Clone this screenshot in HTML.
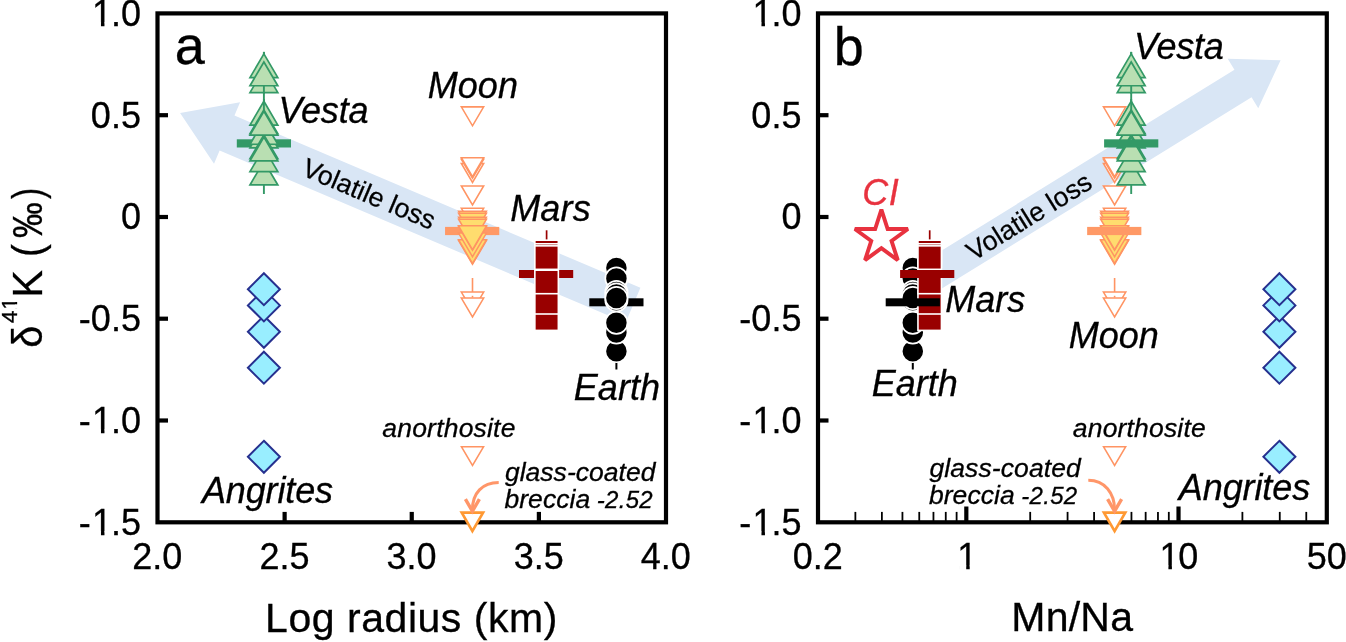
<!DOCTYPE html>
<html lang="en"><head><meta charset="utf-8"><title>Figure</title>
<style>html,body{margin:0;padding:0;background:#fff;overflow:hidden}svg{display:block}</style></head>
<body>
<svg width="1346" height="642" viewBox="0 0 1346 642" font-family="'Liberation Sans', sans-serif">
<rect width="1346" height="642" fill="#fff"/>
<polygon points="180.10,113.10 240.08,102.33 234.47,115.54 640.41,287.85 625.56,322.83 219.62,150.52 214.01,163.73" fill="#d9e6f5"/>
<polygon points="1280.60,60.30 1258.26,108.24 1251.53,97.35 938.60,290.62 921.53,262.97 1234.46,69.70 1227.73,58.81" fill="#d9e6f5"/>
<text transform="translate(300.4,174.8) rotate(23)" font-size="26.8" stroke="#000" stroke-width="0.25">Volatile loss</text>
<text transform="translate(973.6,261.4) rotate(-31.7)" font-size="26.8" stroke="#000" stroke-width="0.25">Volatile loss</text>
<polygon points="263.90,440.80 279.90,456.80 263.90,472.80 247.90,456.80" fill="#99eeff" stroke="#26308f" stroke-width="2.0"/>
<polygon points="263.90,351.70 279.90,367.70 263.90,383.70 247.90,367.70" fill="#99eeff" stroke="#26308f" stroke-width="2.0"/>
<polygon points="263.90,315.80 279.90,331.80 263.90,347.80 247.90,331.80" fill="#99eeff" stroke="#26308f" stroke-width="2.0"/>
<polygon points="263.90,289.40 279.90,305.40 263.90,321.40 247.90,305.40" fill="#99eeff" stroke="#26308f" stroke-width="2.0"/>
<polygon points="263.90,273.20 279.90,289.20 263.90,305.20 247.90,289.20" fill="#99eeff" stroke="#26308f" stroke-width="2.0"/>
<rect x="236.80" y="139.30" width="54.2" height="8.2" fill="#339966"/>
<line x1="263.90" y1="51.90" x2="263.90" y2="194.00" stroke="#339966" stroke-width="1.9"/>
<polygon points="249.97,184.95 277.83,184.95 263.90,161.20" fill="#b9dfb2" stroke="#339966" stroke-width="1.7"/>
<polygon points="249.97,171.65 277.83,171.65 263.90,147.90" fill="#b9dfb2" stroke="#339966" stroke-width="1.7"/>
<polygon points="249.97,147.85 277.83,147.85 263.90,124.10" fill="#b9dfb2" stroke="#339966" stroke-width="1.7"/>
<polygon points="249.97,144.25 277.83,144.25 263.90,120.50" fill="#b9dfb2" stroke="#339966" stroke-width="1.7"/>
<polygon points="249.97,158.65 277.83,158.65 263.90,134.90" fill="#b9dfb2" stroke="#339966" stroke-width="1.7"/>
<polygon points="249.97,125.05 277.83,125.05 263.90,101.30" fill="#b9dfb2" stroke="#339966" stroke-width="1.7"/>
<line x1="263.90" y1="99.00" x2="263.90" y2="112.00" stroke="#339966" stroke-width="1.9"/>
<polygon points="249.97,133.65 277.83,133.65 263.90,109.90" fill="#b9dfb2" stroke="#339966" stroke-width="1.7"/>
<polygon points="249.97,135.15 277.83,135.15 263.90,111.40" fill="#b9dfb2" stroke="#339966" stroke-width="1.7"/>
<polygon points="249.97,160.85 277.83,160.85 263.90,137.10" fill="#b9dfb2" stroke="#339966" stroke-width="1.7"/>
<polygon points="249.97,92.65 277.83,92.65 263.90,68.90" fill="#b9dfb2" stroke="#339966" stroke-width="1.7"/>
<line x1="263.90" y1="86.00" x2="263.90" y2="94.00" stroke="#339966" stroke-width="1.9"/>
<polygon points="249.97,77.65 277.83,77.65 263.90,53.90" fill="#b9dfb2" stroke="#339966" stroke-width="1.7"/>
<polygon points="249.97,85.75 277.83,85.75 263.90,62.00" fill="#b9dfb2" stroke="#339966" stroke-width="1.7"/>
<line x1="263.90" y1="51.90" x2="263.90" y2="55.00" stroke="#339966" stroke-width="1.9"/>
<rect x="445.05" y="226.90" width="54.2" height="8.2" fill="#ff9966"/>
<line x1="472.50" y1="278.00" x2="472.50" y2="292.00" stroke="#ff9463" stroke-width="1.6"/>
<polygon points="461.34,292.07 483.66,292.07 472.50,311.00" fill="#fff" stroke="#ff9463" stroke-width="1.55"/>
<line x1="472.50" y1="295.80" x2="472.50" y2="297.50" stroke="#ff9463" stroke-width="1.6"/>
<polygon points="461.34,298.07 483.66,298.07 472.50,317.00" fill="#fff" stroke="#ff9463" stroke-width="1.55"/>
<polygon points="458.55,240.55 486.45,240.55 472.50,264.23" fill="#ffdc6e" stroke="#ff9463" stroke-width="1.5"/>
<polygon points="458.55,239.75 486.45,239.75 472.50,263.43" fill="#ffdc6e" stroke="#ff9463" stroke-width="1.5"/>
<polygon points="458.55,233.05 486.45,233.05 472.50,256.73" fill="#ffdc6e" stroke="#ff9463" stroke-width="1.5"/>
<polygon points="458.55,226.55 486.45,226.55 472.50,250.23" fill="#ffdc6e" stroke="#ff9463" stroke-width="1.5"/>
<polygon points="461.34,208.28 483.66,208.28 472.50,227.20" fill="#fff" stroke="#ff9463" stroke-width="1.55"/>
<polygon points="458.55,211.15 486.45,211.15 472.50,234.83" fill="#ffdc6e" stroke="#ff9463" stroke-width="1.5"/>
<polygon points="458.55,213.25 486.45,213.25 472.50,236.93" fill="#ffdc6e" stroke="#ff9463" stroke-width="1.5"/>
<polygon points="458.55,217.15 486.45,217.15 472.50,240.83" fill="#ffdc6e" stroke="#ff9463" stroke-width="1.5"/>
<polygon points="458.55,219.25 486.45,219.25 472.50,242.93" fill="#ffdc6e" stroke="#ff9463" stroke-width="1.5"/>
<polygon points="458.55,225.85 486.45,225.85 472.50,249.53" fill="#ffdc6e" stroke="#ff9463" stroke-width="1.5"/>
<polygon points="461.34,185.97 483.66,185.97 472.50,204.90" fill="#fff" stroke="#ff9463" stroke-width="1.55"/>
<polygon points="461.34,163.47 483.66,163.47 472.50,182.40" fill="#fff" stroke="#ff9463" stroke-width="1.55"/>
<polygon points="461.34,159.38 483.66,159.38 472.50,178.30" fill="#fff" stroke="#ff9463" stroke-width="1.55"/>
<polygon points="461.34,157.68 483.66,157.68 472.50,176.60" fill="#fff" stroke="#ff9463" stroke-width="1.55"/>
<polygon points="461.34,106.88 483.66,106.88 472.50,125.80" fill="#fff" stroke="#ff9463" stroke-width="1.55"/>
<polygon points="461.40,446.65 483.60,446.65 472.50,465.48" fill="#fff" stroke="#ff9463" stroke-width="1.5"/>
<rect x="519.00" y="270.00" width="54.2" height="8.0" fill="#990000"/>
<line x1="546.60" y1="230.30" x2="546.60" y2="241.00" stroke="#990000" stroke-width="1.7"/>
<rect x="534.85" y="306.90" width="23.5" height="23.5" fill="#990000" stroke="#fff" stroke-width="1.6"/>
<rect x="534.85" y="290.50" width="23.5" height="23.5" fill="#990000" stroke="#fff" stroke-width="1.6"/>
<rect x="534.85" y="270.20" width="23.5" height="23.5" fill="#990000" stroke="#fff" stroke-width="1.6"/>
<rect x="534.85" y="240.20" width="23.5" height="23.5" fill="#990000" stroke="#fff" stroke-width="1.6"/>
<rect x="534.85" y="243.80" width="23.5" height="23.5" fill="#990000" stroke="#fff" stroke-width="1.6"/>
<rect x="534.85" y="245.85" width="23.5" height="23.5" fill="#990000" stroke="#fff" stroke-width="1.6"/>
<rect x="589.30" y="298.30" width="54.2" height="8.0" fill="#000"/>
<line x1="616.40" y1="355.00" x2="616.40" y2="369.50" stroke="#000" stroke-width="2.0"/>
<circle cx="616.40" cy="351.15" r="11.1" fill="#000" stroke="#fff" stroke-width="1.7"/>
<circle cx="616.40" cy="268.10" r="11.1" fill="#000" stroke="#fff" stroke-width="1.7"/>
<circle cx="616.40" cy="332.60" r="11.1" fill="#000" stroke="#fff" stroke-width="1.7"/>
<circle cx="616.40" cy="278.40" r="11.1" fill="#000" stroke="#fff" stroke-width="1.7"/>
<circle cx="616.40" cy="322.80" r="11.1" fill="#000" stroke="#fff" stroke-width="1.7"/>
<circle cx="616.40" cy="292.00" r="11.1" fill="#000" stroke="#fff" stroke-width="1.7"/>
<circle cx="616.40" cy="294.40" r="11.1" fill="#000" stroke="#fff" stroke-width="1.7"/>
<circle cx="616.40" cy="300.30" r="11.1" fill="#000" stroke="#fff" stroke-width="1.7"/>
<circle cx="616.40" cy="298.00" r="11.1" fill="#000" stroke="#fff" stroke-width="1.7"/>
<polygon points="1279.40,440.80 1295.40,456.80 1279.40,472.80 1263.40,456.80" fill="#99eeff" stroke="#26308f" stroke-width="2.0"/>
<polygon points="1279.40,351.70 1295.40,367.70 1279.40,383.70 1263.40,367.70" fill="#99eeff" stroke="#26308f" stroke-width="2.0"/>
<polygon points="1279.40,315.80 1295.40,331.80 1279.40,347.80 1263.40,331.80" fill="#99eeff" stroke="#26308f" stroke-width="2.0"/>
<polygon points="1279.40,289.40 1295.40,305.40 1279.40,321.40 1263.40,305.40" fill="#99eeff" stroke="#26308f" stroke-width="2.0"/>
<polygon points="1279.40,273.20 1295.40,289.20 1279.40,305.20 1263.40,289.20" fill="#99eeff" stroke="#26308f" stroke-width="2.0"/>
<line x1="1114.60" y1="278.00" x2="1114.60" y2="292.00" stroke="#ff9463" stroke-width="1.6"/>
<polygon points="1103.44,292.07 1125.76,292.07 1114.60,311.00" fill="#fff" stroke="#ff9463" stroke-width="1.55"/>
<line x1="1114.60" y1="295.80" x2="1114.60" y2="297.50" stroke="#ff9463" stroke-width="1.6"/>
<polygon points="1103.44,298.07 1125.76,298.07 1114.60,317.00" fill="#fff" stroke="#ff9463" stroke-width="1.55"/>
<polygon points="1100.65,240.55 1128.55,240.55 1114.60,264.23" fill="#ffdc6e" stroke="#ff9463" stroke-width="1.5"/>
<polygon points="1100.65,239.75 1128.55,239.75 1114.60,263.43" fill="#ffdc6e" stroke="#ff9463" stroke-width="1.5"/>
<polygon points="1100.65,233.05 1128.55,233.05 1114.60,256.73" fill="#ffdc6e" stroke="#ff9463" stroke-width="1.5"/>
<polygon points="1100.65,226.55 1128.55,226.55 1114.60,250.23" fill="#ffdc6e" stroke="#ff9463" stroke-width="1.5"/>
<polygon points="1103.44,208.28 1125.76,208.28 1114.60,227.20" fill="#fff" stroke="#ff9463" stroke-width="1.55"/>
<polygon points="1100.65,211.15 1128.55,211.15 1114.60,234.83" fill="#ffdc6e" stroke="#ff9463" stroke-width="1.5"/>
<polygon points="1100.65,213.25 1128.55,213.25 1114.60,236.93" fill="#ffdc6e" stroke="#ff9463" stroke-width="1.5"/>
<polygon points="1100.65,217.15 1128.55,217.15 1114.60,240.83" fill="#ffdc6e" stroke="#ff9463" stroke-width="1.5"/>
<polygon points="1100.65,219.25 1128.55,219.25 1114.60,242.93" fill="#ffdc6e" stroke="#ff9463" stroke-width="1.5"/>
<polygon points="1100.65,225.85 1128.55,225.85 1114.60,249.53" fill="#ffdc6e" stroke="#ff9463" stroke-width="1.5"/>
<polygon points="1103.44,185.97 1125.76,185.97 1114.60,204.90" fill="#fff" stroke="#ff9463" stroke-width="1.55"/>
<polygon points="1103.44,163.47 1125.76,163.47 1114.60,182.40" fill="#fff" stroke="#ff9463" stroke-width="1.55"/>
<polygon points="1103.44,159.38 1125.76,159.38 1114.60,178.30" fill="#fff" stroke="#ff9463" stroke-width="1.55"/>
<polygon points="1103.44,157.68 1125.76,157.68 1114.60,176.60" fill="#fff" stroke="#ff9463" stroke-width="1.55"/>
<polygon points="1103.44,106.88 1125.76,106.88 1114.60,125.80" fill="#fff" stroke="#ff9463" stroke-width="1.55"/>
<rect x="1087.15" y="226.90" width="54.2" height="8.2" fill="#ff9966"/>
<polygon points="1103.50,446.65 1125.70,446.65 1114.60,465.48" fill="#fff" stroke="#ff9463" stroke-width="1.5"/>
<line x1="1131.20" y1="51.90" x2="1131.20" y2="194.00" stroke="#339966" stroke-width="1.9"/>
<polygon points="1117.27,184.95 1145.13,184.95 1131.20,161.20" fill="#b9dfb2" stroke="#339966" stroke-width="1.7"/>
<polygon points="1117.27,171.65 1145.13,171.65 1131.20,147.90" fill="#b9dfb2" stroke="#339966" stroke-width="1.7"/>
<polygon points="1117.27,147.85 1145.13,147.85 1131.20,124.10" fill="#b9dfb2" stroke="#339966" stroke-width="1.7"/>
<polygon points="1117.27,144.25 1145.13,144.25 1131.20,120.50" fill="#b9dfb2" stroke="#339966" stroke-width="1.7"/>
<polygon points="1117.27,158.65 1145.13,158.65 1131.20,134.90" fill="#b9dfb2" stroke="#339966" stroke-width="1.7"/>
<polygon points="1117.27,125.05 1145.13,125.05 1131.20,101.30" fill="#b9dfb2" stroke="#339966" stroke-width="1.7"/>
<line x1="1131.20" y1="99.00" x2="1131.20" y2="112.00" stroke="#339966" stroke-width="1.9"/>
<polygon points="1117.27,133.65 1145.13,133.65 1131.20,109.90" fill="#b9dfb2" stroke="#339966" stroke-width="1.7"/>
<polygon points="1117.27,135.15 1145.13,135.15 1131.20,111.40" fill="#b9dfb2" stroke="#339966" stroke-width="1.7"/>
<polygon points="1117.27,160.85 1145.13,160.85 1131.20,137.10" fill="#b9dfb2" stroke="#339966" stroke-width="1.7"/>
<polygon points="1117.27,92.65 1145.13,92.65 1131.20,68.90" fill="#b9dfb2" stroke="#339966" stroke-width="1.7"/>
<line x1="1131.20" y1="86.00" x2="1131.20" y2="94.00" stroke="#339966" stroke-width="1.9"/>
<polygon points="1117.27,77.65 1145.13,77.65 1131.20,53.90" fill="#b9dfb2" stroke="#339966" stroke-width="1.7"/>
<polygon points="1117.27,85.75 1145.13,85.75 1131.20,62.00" fill="#b9dfb2" stroke="#339966" stroke-width="1.7"/>
<line x1="1131.20" y1="51.90" x2="1131.20" y2="55.00" stroke="#339966" stroke-width="1.9"/>
<rect x="1104.10" y="139.30" width="54.2" height="8.2" fill="#339966"/>
<line x1="912.80" y1="355.00" x2="912.80" y2="369.50" stroke="#000" stroke-width="2.0"/>
<circle cx="912.80" cy="351.15" r="11.1" fill="#000" stroke="#fff" stroke-width="1.7"/>
<circle cx="912.80" cy="268.10" r="11.1" fill="#000" stroke="#fff" stroke-width="1.7"/>
<circle cx="912.80" cy="332.60" r="11.1" fill="#000" stroke="#fff" stroke-width="1.7"/>
<circle cx="912.80" cy="278.40" r="11.1" fill="#000" stroke="#fff" stroke-width="1.7"/>
<circle cx="912.80" cy="322.80" r="11.1" fill="#000" stroke="#fff" stroke-width="1.7"/>
<circle cx="912.80" cy="292.00" r="11.1" fill="#000" stroke="#fff" stroke-width="1.7"/>
<circle cx="912.80" cy="294.40" r="11.1" fill="#000" stroke="#fff" stroke-width="1.7"/>
<circle cx="912.80" cy="300.30" r="11.1" fill="#000" stroke="#fff" stroke-width="1.7"/>
<circle cx="912.80" cy="298.00" r="11.1" fill="#000" stroke="#fff" stroke-width="1.7"/>
<line x1="929.70" y1="230.30" x2="929.70" y2="241.00" stroke="#990000" stroke-width="1.7"/>
<rect x="917.95" y="306.90" width="23.5" height="23.5" fill="#990000" stroke="#fff" stroke-width="1.6"/>
<rect x="917.95" y="290.50" width="23.5" height="23.5" fill="#990000" stroke="#fff" stroke-width="1.6"/>
<rect x="917.95" y="270.20" width="23.5" height="23.5" fill="#990000" stroke="#fff" stroke-width="1.6"/>
<rect x="917.95" y="240.20" width="23.5" height="23.5" fill="#990000" stroke="#fff" stroke-width="1.6"/>
<rect x="917.95" y="243.80" width="23.5" height="23.5" fill="#990000" stroke="#fff" stroke-width="1.6"/>
<rect x="917.95" y="245.85" width="23.5" height="23.5" fill="#990000" stroke="#fff" stroke-width="1.6"/>
<rect x="900.10" y="270.00" width="54.2" height="8.0" fill="#990000"/>
<rect x="885.70" y="298.30" width="54.2" height="8.0" fill="#000"/>
<polygon points="881.40,209.70 887.66,228.98 907.93,228.98 891.54,240.89 897.80,260.17 881.40,248.26 865.00,260.17 871.26,240.89 854.87,228.98 875.14,228.98" fill="#fff" stroke="#e8323f" stroke-width="3.9" stroke-linejoin="miter" stroke-miterlimit="2"/>
<rect x="157.5" y="13.4" width="508.5" height="508.9" fill="none" stroke="#000" stroke-width="4.2"/>
<line x1="157.5" y1="115.2" x2="168.0" y2="115.2" stroke="#000" stroke-width="4.2"/>
<line x1="157.5" y1="217.0" x2="168.0" y2="217.0" stroke="#000" stroke-width="4.2"/>
<line x1="157.5" y1="318.7" x2="168.0" y2="318.7" stroke="#000" stroke-width="4.2"/>
<line x1="157.5" y1="420.5" x2="168.0" y2="420.5" stroke="#000" stroke-width="4.2"/>
<rect x="818.0" y="13.4" width="508.79999999999995" height="508.9" fill="none" stroke="#000" stroke-width="4.2"/>
<line x1="818.0" y1="115.2" x2="828.5" y2="115.2" stroke="#000" stroke-width="4.2"/>
<line x1="818.0" y1="217.0" x2="828.5" y2="217.0" stroke="#000" stroke-width="4.2"/>
<line x1="818.0" y1="318.7" x2="828.5" y2="318.7" stroke="#000" stroke-width="4.2"/>
<line x1="818.0" y1="420.5" x2="828.5" y2="420.5" stroke="#000" stroke-width="4.2"/>
<line x1="284.62" y1="522.3" x2="284.62" y2="511.9" stroke="#000" stroke-width="4.2"/>
<line x1="411.75" y1="522.3" x2="411.75" y2="511.9" stroke="#000" stroke-width="4.2"/>
<line x1="538.88" y1="522.3" x2="538.88" y2="511.9" stroke="#000" stroke-width="4.2"/>
<line x1="966.32" y1="522.3" x2="966.32" y2="506.5" stroke="#000" stroke-width="4.2"/>
<line x1="1178.52" y1="522.3" x2="1178.52" y2="506.5" stroke="#000" stroke-width="4.2"/>
<line x1="855.37" y1="522.3" x2="855.37" y2="511.9" stroke="#000" stroke-width="1.8"/>
<line x1="881.88" y1="522.3" x2="881.88" y2="511.9" stroke="#000" stroke-width="1.8"/>
<line x1="902.44" y1="522.3" x2="902.44" y2="511.9" stroke="#000" stroke-width="1.8"/>
<line x1="919.25" y1="522.3" x2="919.25" y2="511.9" stroke="#000" stroke-width="1.8"/>
<line x1="933.45" y1="522.3" x2="933.45" y2="511.9" stroke="#000" stroke-width="1.8"/>
<line x1="945.76" y1="522.3" x2="945.76" y2="511.9" stroke="#000" stroke-width="1.8"/>
<line x1="956.61" y1="522.3" x2="956.61" y2="511.9" stroke="#000" stroke-width="1.8"/>
<line x1="1030.20" y1="522.3" x2="1030.20" y2="511.9" stroke="#000" stroke-width="1.8"/>
<line x1="1067.57" y1="522.3" x2="1067.57" y2="511.9" stroke="#000" stroke-width="1.8"/>
<line x1="1094.08" y1="522.3" x2="1094.08" y2="511.9" stroke="#000" stroke-width="1.8"/>
<line x1="1114.64" y1="522.3" x2="1114.64" y2="511.9" stroke="#000" stroke-width="1.8"/>
<line x1="1131.45" y1="522.3" x2="1131.45" y2="511.9" stroke="#000" stroke-width="1.8"/>
<line x1="1145.65" y1="522.3" x2="1145.65" y2="511.9" stroke="#000" stroke-width="1.8"/>
<line x1="1157.96" y1="522.3" x2="1157.96" y2="511.9" stroke="#000" stroke-width="1.8"/>
<line x1="1168.81" y1="522.3" x2="1168.81" y2="511.9" stroke="#000" stroke-width="1.8"/>
<line x1="1242.40" y1="522.3" x2="1242.40" y2="511.9" stroke="#000" stroke-width="1.8"/>
<line x1="1279.77" y1="522.3" x2="1279.77" y2="511.9" stroke="#000" stroke-width="1.8"/>
<line x1="1306.28" y1="522.3" x2="1306.28" y2="511.9" stroke="#000" stroke-width="1.8"/>
<polygon points="461.74,512.55 483.06,512.55 472.40,531.10" fill="#fff" stroke="#ff9933" stroke-width="2.7"/>
<path d="M498.7,482.5 C482.4,482.5 472.4,493.0 472.4,510.0" fill="none" stroke="#ff9669" stroke-width="3"/>
<polyline points="465.4,499.2 472.4,511.2 479.4,499.2" fill="none" stroke="#ff9669" stroke-width="3.4" stroke-linejoin="miter"/>
<polygon points="1103.94,512.55 1125.26,512.55 1114.60,531.10" fill="#fff" stroke="#ff9933" stroke-width="2.7"/>
<path d="M1088.3,480.3 C1104.6,480.3 1114.6,493.0 1114.6,510.0" fill="none" stroke="#ff9669" stroke-width="3"/>
<polyline points="1107.6,499.2 1114.6,511.2 1121.6,499.2" fill="none" stroke="#ff9669" stroke-width="3.4" stroke-linejoin="miter"/>
<text x="92.06 110.88 120.88" y="25.80" font-size="36" fill="#000" stroke="#000" stroke-width="0.3">1.0</text><rect x="93.86" y="22.38" width="7.10" height="5.02" fill="#fff"/><rect x="104.46" y="22.38" width="7.76" height="5.02" fill="#fff"/>
<text x="90.86 110.88 120.88" y="127.60" font-size="36" fill="#000" stroke="#000" stroke-width="0.3">0.5</text>
<text x="120.88" y="229.40" font-size="36" fill="#000" stroke="#000" stroke-width="0.3">0</text>
<text x="78.87 90.86 110.88 120.88" y="331.10" font-size="36" fill="#000" stroke="#000" stroke-width="0.3">-0.5</text>
<text x="78.87 92.06 110.88 120.88" y="432.90" font-size="36" fill="#000" stroke="#000" stroke-width="0.3">-1.0</text><rect x="93.86" y="429.48" width="7.10" height="5.02" fill="#fff"/><rect x="104.46" y="429.48" width="7.76" height="5.02" fill="#fff"/>
<text x="78.87 92.06 110.88 120.88" y="534.70" font-size="36" fill="#000" stroke="#000" stroke-width="0.3">-1.5</text><rect x="93.86" y="531.28" width="7.10" height="5.02" fill="#fff"/><rect x="104.46" y="531.28" width="7.76" height="5.02" fill="#fff"/>
<text x="752.56 771.38 781.38" y="25.80" font-size="36" fill="#000" stroke="#000" stroke-width="0.3">1.0</text><rect x="754.36" y="22.38" width="7.10" height="5.02" fill="#fff"/><rect x="764.96" y="22.38" width="7.76" height="5.02" fill="#fff"/>
<text x="751.36 771.38 781.38" y="127.60" font-size="36" fill="#000" stroke="#000" stroke-width="0.3">0.5</text>
<text x="781.38" y="229.40" font-size="36" fill="#000" stroke="#000" stroke-width="0.3">0</text>
<text x="739.37 751.36 771.38 781.38" y="331.10" font-size="36" fill="#000" stroke="#000" stroke-width="0.3">-0.5</text>
<text x="739.37 752.56 771.38 781.38" y="432.90" font-size="36" fill="#000" stroke="#000" stroke-width="0.3">-1.0</text><rect x="754.36" y="429.48" width="7.10" height="5.02" fill="#fff"/><rect x="764.96" y="429.48" width="7.76" height="5.02" fill="#fff"/>
<text x="739.37 752.56 771.38 781.38" y="534.70" font-size="36" fill="#000" stroke="#000" stroke-width="0.3">-1.5</text><rect x="754.36" y="531.28" width="7.10" height="5.02" fill="#fff"/><rect x="764.96" y="531.28" width="7.76" height="5.02" fill="#fff"/>
<text x="132.28 152.30 162.30" y="568.80" font-size="36" fill="#000" stroke="#000" stroke-width="0.3">2.0</text>
<text x="259.41 279.42 289.43" y="568.80" font-size="36" fill="#000" stroke="#000" stroke-width="0.3">2.5</text>
<text x="386.53 406.55 416.55" y="568.80" font-size="36" fill="#000" stroke="#000" stroke-width="0.3">3.0</text>
<text x="513.65 533.67 543.68" y="568.80" font-size="36" fill="#000" stroke="#000" stroke-width="0.3">3.5</text>
<text x="640.78 660.80 670.80" y="568.80" font-size="36" fill="#000" stroke="#000" stroke-width="0.3">4.0</text>
<text x="792.78 812.80 822.80" y="568.80" font-size="36" fill="#000" stroke="#000" stroke-width="0.3">0.2</text>
<text x="957.31" y="568.80" font-size="36" fill="#000" stroke="#000" stroke-width="0.3">1</text><rect x="959.11" y="565.38" width="7.10" height="5.02" fill="#fff"/><rect x="969.71" y="565.38" width="7.76" height="5.02" fill="#fff"/>
<text x="1159.51 1178.32" y="568.80" font-size="36" fill="#000" stroke="#000" stroke-width="0.3">10</text><rect x="1161.31" y="565.38" width="7.10" height="5.02" fill="#fff"/><rect x="1171.91" y="565.38" width="7.76" height="5.02" fill="#fff"/>
<text x="1306.63 1326.64" y="568.80" font-size="36" fill="#000" stroke="#000" stroke-width="0.3">50</text>
<text x="265.05" y="631.70" font-size="41" text-anchor="start" fill="#000" stroke="#000" stroke-width="0.3" letter-spacing="0.54">Log radius (km)</text>
<text x="1011.25" y="631.00" font-size="41" text-anchor="start" fill="#000" stroke="#000" stroke-width="0.3" letter-spacing="0.25">Mn/Na</text>
<text x="174.65" y="64.20" font-size="54" text-anchor="start" fill="#000" stroke="#000" stroke-width="0.3" letter-spacing="-1.25">a</text>
<text x="833.70" y="64.80" font-size="54" text-anchor="start" fill="#000" stroke="#000" stroke-width="0.3" letter-spacing="0.65">b</text>
<g transform="translate(42,347.76) rotate(-90) scale(0.9468,1)"><text font-size="42" stroke="#000" stroke-width="0.3">δ</text></g>
<g transform="translate(17.1,322.88) rotate(-90)"><text x="0 13.14" font-size="22.3" stroke="#000" stroke-width="0.3">41</text><rect x="14.26" y="-2.12" width="4.32" height="3.72" fill="#fff"/><rect x="20.90" y="-2.12" width="4.73" height="3.72" fill="#fff"/></g>
<g transform="translate(42,297.86) rotate(-90) scale(0.9875,1)"><text font-size="42" stroke="#000" stroke-width="0.3">K</text></g>
<g transform="translate(42,257.09) rotate(-90) scale(0.9156,1)"><text font-size="42" stroke="#000" stroke-width="0.3">(</text></g>
<g transform="translate(42,238.06) rotate(-90) scale(0.8506,1)"><text font-size="42" stroke="#000" stroke-width="0.3">‰</text></g>
<g transform="translate(42,198.90) rotate(-90) scale(0.8000,1)"><text font-size="42" stroke="#000" stroke-width="0.3">)</text></g>
<text x="278.60" y="123.00" font-size="36" text-anchor="start" font-style="italic" fill="#000" stroke="#000" stroke-width="0.3" letter-spacing="-0.21">Vesta</text>
<text x="427.75" y="98.25" font-size="36" text-anchor="start" font-style="italic" fill="#000" stroke="#000" stroke-width="0.3" letter-spacing="0.05">Moon</text>
<text x="510.15" y="220.80" font-size="36" text-anchor="start" font-style="italic" fill="#000" stroke="#000" stroke-width="0.3" letter-spacing="0.17">Mars</text>
<text x="573.75" y="400.30" font-size="36" text-anchor="start" font-style="italic" fill="#000" stroke="#000" stroke-width="0.3" letter-spacing="0.05">Earth</text>
<text x="201.95" y="502.50" font-size="36" text-anchor="start" font-style="italic" fill="#000" stroke="#000" stroke-width="0.3" letter-spacing="-0.13">Angrites</text>
<text x="382.30" y="436.70" font-size="26.5" text-anchor="start" font-style="italic" fill="#000" stroke="#000" stroke-width="0.3" letter-spacing="0.2">anorthosite</text>
<text x="504.90" y="480.50" font-size="26.5" text-anchor="start" font-style="italic" fill="#000" stroke="#000" stroke-width="0.3" letter-spacing="0.03">glass-coated</text>
<text x="504.40" y="507.70" font-size="26.5" text-anchor="start" font-style="italic" fill="#000" stroke="#000" stroke-width="0.3" letter-spacing="0.08">breccia</text>
<text x="596.80" y="507.70" font-size="24" text-anchor="start" font-style="italic" fill="#000" stroke="#000" stroke-width="0.3" letter-spacing="0.29">-2.52</text>
<text x="1134.01" y="58.80" font-size="36" text-anchor="start" font-style="italic" fill="#000" stroke="#000" stroke-width="0.3" letter-spacing="-0.21">Vesta</text>
<text x="1068.75" y="348.25" font-size="36" text-anchor="start" font-style="italic" fill="#000" stroke="#000" stroke-width="0.3">Moon</text>
<text x="945.15" y="311.60" font-size="36" text-anchor="start" font-style="italic" fill="#000" stroke="#000" stroke-width="0.3" letter-spacing="0.03">Mars</text>
<text x="871.65" y="395.90" font-size="36" text-anchor="start" font-style="italic" fill="#000" stroke="#000" stroke-width="0.3" letter-spacing="0.03">Earth</text>
<text x="1178.85" y="500.10" font-size="36" text-anchor="start" font-style="italic" fill="#000" stroke="#000" stroke-width="0.3" letter-spacing="-0.11">Angrites</text>
<text x="1072.80" y="436.80" font-size="26.5" text-anchor="start" font-style="italic" fill="#000" stroke="#000" stroke-width="0.3" letter-spacing="0.18">anorthosite</text>
<text x="929.40" y="476.90" font-size="26.5" text-anchor="start" font-style="italic" fill="#000" stroke="#000" stroke-width="0.3" letter-spacing="0.11">glass-coated</text>
<text x="928.90" y="504.30" font-size="26.5" text-anchor="start" font-style="italic" fill="#000" stroke="#000" stroke-width="0.3" letter-spacing="0.08">breccia</text>
<text x="1021.30" y="504.30" font-size="24" text-anchor="start" font-style="italic" fill="#000" stroke="#000" stroke-width="0.3" letter-spacing="0.29">-2.52</text>
<text x="862.30" y="204.50" font-size="36" text-anchor="start" font-style="italic" fill="#e8323f" stroke="#e8323f" stroke-width="0.3" letter-spacing="0.5">CI</text>
</svg>
</body></html>
